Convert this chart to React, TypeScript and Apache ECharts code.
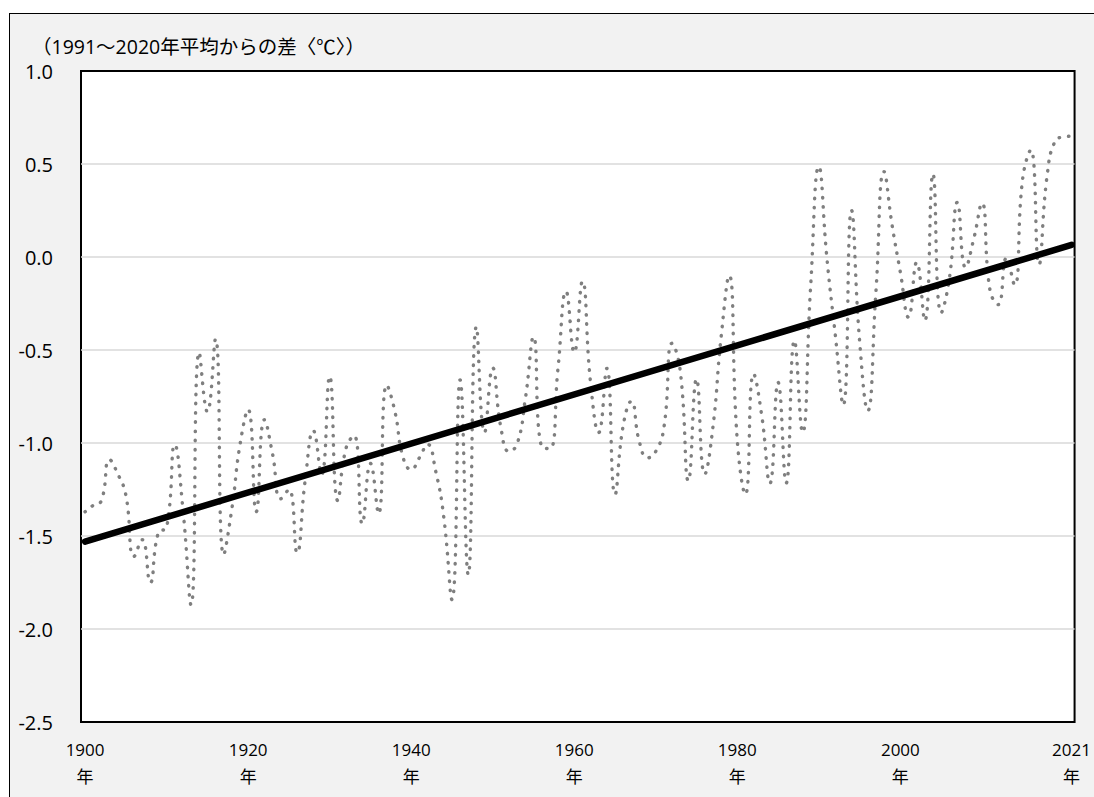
import React, { useEffect, useRef } from "react";
import * as echarts from "echarts";

// Annual temperature anomaly (deviation from the 1991–2020 average, °C), 1900–2021
const FIRST_YEAR = 1900;
const anomalies: number[] = [
  // 1900s
  -1.37, -1.335, -1.31, -1.09, -1.165, -1.28, -1.61, -1.52, -1.75, -1.48,
  // 1910s
  -1.455, -1.01, -1.355, -1.87, -0.513, -0.832, -0.441, -1.6, -1.355, -1.01,
  // 1920s
  -0.82, -1.369, -0.875, -1.06, -1.3, -1.25, -1.59, -1.2, -0.934, -1.17,
  // 1930s
  -0.642, -1.31, -1.03, -0.96, -1.434, -1.11, -1.38, -0.688, -0.83, -1.077,
  // 1940s
  -1.143, -1.08, -1.007, -1.15, -1.4, -1.842, -0.661, -1.708, -0.375, -0.943,
  // 1950s
  -0.597, -0.916, -1.045, -1.005, -0.763, -0.43, -1.02, -1.03, -0.602, -0.185,
  // 1960s
  -0.513, -0.131, -0.674, -0.944, -0.599, -1.276, -0.907, -0.776, -0.996, -1.08,
  // 1970s
  -1.045, -0.916, -0.464, -0.611, -1.203, -0.656, -1.167, -0.918, -0.437, -0.1,
  // 1980s
  -0.987, -1.276, -0.629, -0.853, -1.217, -0.674, -1.215, -0.45, -0.943, -0.154,
  // 1990s
  0.486, -0.01, -0.41, -0.796, 0.251, -0.45, -0.826, -0.19, 0.459, 0.168,
  // 2000s
  -0.082, -0.324, -0.029, -0.342, 0.446, -0.3, -0.12, 0.294, -0.056, 0.097,
  // 2010s
  0.289, -0.18, -0.256, -0.007, -0.15, 0.42, 0.575, -0.04, 0.437, 0.625,
  // 2020s
  0.645, 0.65,
];

// Long-term linear trend, values at the first and the last year
const trendEnds: number[] = [-1.53, 0.065];

// Years that carry a label on the horizontal axis
const yearTicks: number[] = [1900, 1920, 1940, 1960, 1980, 2000, 2021];

// Vertical axis range and step (°C)
const yRange: number[] = [-2.5, 1.0];
const yStep = 0.5;

const unitLabel = "（1991～2020年平均からの差〈℃〉）";
const yearSuffix = "年";

const FONT = '"Open Sans", "Noto Sans CJK JP", sans-serif';

export default function App() {
  const ref = useRef<HTMLDivElement>(null);

  useEffect(() => {
    if (!ref.current) return;
    const chart = echarts.init(ref.current, null, { renderer: "svg" });
    const lastYear = FIRST_YEAR + anomalies.length - 1;
    const series1 = anomalies.map((v, i) => [FIRST_YEAR + i, v]);
    const trend = [
      [FIRST_YEAR, trendEnds[0]],
      [lastYear, trendEnds[1]],
    ];

    chart.setOption({
      animation: false,
      title: {
        text: unitLabel,
        left: 27,
        top: 32,
        textStyle: {
          fontFamily: FONT,
          fontSize: 19.5,
          fontWeight: "normal",
          color: "#000",
        },
      },
      grid: {
        left: 81,
        right: 16,
        top: 71,
        bottom: 75,
        show: true,
        backgroundColor: "#ffffff",
        borderColor: "#000000",
        borderWidth: 2,
      },
      xAxis: {
        type: "value",
        min: FIRST_YEAR - 0.5,
        max: lastYear + 0.37,
        axisLine: { show: false },
        axisTick: { show: false },
        splitLine: { show: false },
        axisLabel: {
          customValues: yearTicks,
          formatter: (v: number) => `${v}\n${yearSuffix}`,
          fontFamily: FONT,
          fontSize: 17,
          lineHeight: 27,
          color: "#000",
          margin: 14,
        },
      },
      yAxis: {
        type: "value",
        min: yRange[0],
        max: yRange[1],
        interval: yStep,
        axisLine: { show: false },
        axisTick: { show: false },
        splitLine: {
          showMinLine: false,
          showMaxLine: false,
          lineStyle: { color: "#d9d9d9", width: 1.5 },
        },
        axisLabel: {
          formatter: (v: number) => v.toFixed(1),
          fontFamily: FONT,
          fontSize: 20,
          color: "#000",
          margin: 28,
        },
      },
      series: [
        {
          type: "line",
          data: series1,
          smooth: true,
          symbol: "none",
          showSymbol: false,
          lineStyle: {
            color: "#7f7f7f",
            width: 3.4,
            type: [0.5, 8.7],
            cap: "round",
          },
          z: 2,
        },
        {
          type: "line",
          data: trend,
          symbol: "none",
          showSymbol: false,
          lineStyle: { color: "#000000", width: 6.5, cap: "round" },
          z: 3,
        },
      ],
    });

    return () => chart.dispose();
  }, []);

  return (
    <div
      style={{
        position: "fixed",
        left: 0,
        top: 0,
        width: 1094,
        height: 797,
        background: "#ffffff",
        overflow: "hidden",
      }}
    >
      <div
        style={{
          position: "absolute",
          left: 9,
          top: 13,
          width: 1200,
          height: 900,
          background: "#f2f2f2",
          borderLeft: "1.5px solid #000",
          borderTop: "1.5px solid #000",
        }}
      />
      <div
        ref={ref}
        style={{ position: "absolute", left: 0, top: 0, width: 1094, height: 797 }}
      />
    </div>
  );
}
